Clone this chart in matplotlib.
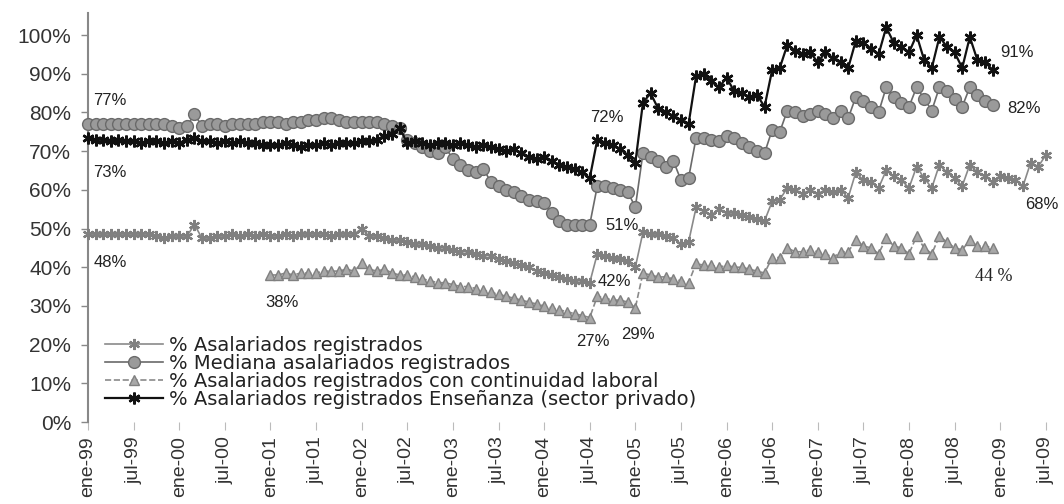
import numpy as np
import matplotlib
matplotlib.use('Agg')
import matplotlib.pyplot as plt

plt.rcParams['font.family'] = ['Liberation Sans', 'DejaVu Sans']

# Meses desde ene-99 (indice 0)
tick_labels = ['ene-99', 'jul-99', 'ene-00', 'jul-00', 'ene-01', 'jul-01', 'ene-02', 'jul-02',
               'ene-03', 'jul-03', 'ene-04', 'jul-04', 'ene-05', 'jul-05', 'ene-06', 'jul-06',
               'ene-07', 'jul-07', 'ene-08', 'jul-08', 'ene-09', 'jul-09']

# % Asalariados registrados (ene-99 .. jul-09)
asalariados = [
    48.5, 48.5, 48.5, 48.5, 48.5, 48.5, 48.5, 48.5, 48.5, 48, 47.5, 48,
    48, 48, 51, 47.5, 47.5, 48, 48, 48.5, 48, 48.5, 48, 48.5,
    48, 48, 48.5, 48, 48.5, 48.5, 48.5, 48.5, 48, 48.5, 48.5, 48.5,
    50, 48, 48, 47.5, 47, 47,
    46.5, 46, 46, 45.5, 45, 45, 44.5, 44, 44, 43.5, 43, 43,
    42, 41.5, 41, 40.5, 40, 39, 38.5, 38, 37.5, 37, 36.5, 36.5, 36,
    43.5, 43, 42.5, 42, 41.5, 40,
    49, 48.5, 48.5, 48, 47.5, 46, 46.5,
    55.5, 54.5, 53.5, 55, 54, 54, 53.5, 53, 52.5, 52,
    57, 57.5, 60.5, 60, 59, 60, 59, 60, 59.5, 60, 58,
    64.5, 62.5, 62, 60.5, 65, 63.5, 62.5, 60.5, 66, 63, 60.5, 66.5, 64.5,
    63, 61, 66.5, 64.5, 63.5, 62, 63.5, 63, 62.5, 61, 67, 66, 69]

# % Mediana asalariados registrados (ene-99 .. dic-08)
mediana = [
    77, 77, 77, 77, 77, 77, 77, 77, 77, 77, 77, 76.5,
    76, 76.5, 79.5, 76.5, 77, 77, 76.5, 77, 77, 77, 77, 77.5,
    77.5, 77.5, 77, 77.5, 77.5, 78, 78, 78.5, 78.5, 78, 77.5, 77.5,
    77.5, 77.5, 77.5, 77, 76.5, 76,
    73, 72, 71, 70, 69.5, 71, 68, 66.5, 65, 64.5, 65.5, 62,
    61, 60, 59.5, 58.5, 57.5, 57, 56.5, 54, 52, 51, 51, 51, 51,
    61, 61, 60.5, 60, 59.5, 55.5,
    69.5, 68.5, 67.5, 66, 67.5, 62.5, 63,
    73.5, 73.5, 73, 72.5, 74, 73.5, 72, 71, 70, 69.5,
    75.5, 75, 80.5, 80, 79, 79.5, 80.5, 79.5, 78.5, 80.5, 78.5,
    84, 83, 81.5, 80, 86.5, 84, 82.5, 81.5, 86.5, 83.5, 80.5, 86.5, 85.5,
    83.5, 81.5, 86.5, 84.5, 83, 82]

# % Asalariados registrados con continuidad laboral (ene-01 .. dic-08)
continuidad = [
    38, 38, 38.5, 38, 38.5, 38.5, 38.5, 39, 39, 39, 39.5, 39,
    41, 39.5, 39, 39.5, 38.5, 38,
    38, 37.5, 37, 36.5, 36, 36, 35.5, 35, 35, 34.5, 34, 33.5,
    33, 32.5, 32, 31.5, 31, 30.5, 30, 29.5, 29, 28.5, 28, 27.5, 27,
    32.5, 32, 31.5, 31.5, 31, 29.5,
    38.5, 38, 37.5, 37.5, 37, 36.5, 36,
    41, 40.5, 40.5, 40, 40.5, 40, 40, 39.5, 39, 38.5,
    42.5, 42.5, 45, 44, 44, 44.5, 44, 43.5, 42.5, 44, 44,
    47, 45.5, 45, 43.5, 47.5, 45.5, 45, 43.5, 48, 45, 43.5, 48, 46.5,
    45, 44.5, 47, 45.5, 45.5, 45]
continuidad_inicio = 24

# % Asalariados registrados Enseñanza (sector privado) (ene-99 .. dic-08)
ensenanza = [
    73.5, 73, 73, 72.5, 73, 72.5, 72.5, 72, 72.5, 72.5, 72, 72.5,
    72, 73, 73.5, 72.5, 72.5, 72, 72.5, 72, 72.5, 72, 72, 71.5,
    71.5, 71.5, 72, 71.5, 71, 71.5, 71.5, 72, 71.5, 72, 72, 72,
    72.5, 72.5, 73, 74, 74.5, 76,
    72, 72.5, 72, 71.5, 72, 72, 71.5, 72, 71.5, 71, 71.5, 71,
    70.5, 70, 70.5, 69.5, 68.5, 68, 68.5, 67.5, 66.5, 66, 65.5, 64.5, 63,
    73, 72, 71.5, 70.5, 69, 67,
    82.5, 85, 81, 80, 79, 78, 77,
    89.5, 90, 88, 86.5, 89, 85.5, 85, 84, 84.5, 81.5,
    91, 91.5, 97.5, 96, 95, 95.5, 93, 95.5, 94, 93, 91.5,
    98.5, 98, 96.5, 95, 102, 98, 97, 95.5, 100, 93.5, 91.5, 99.5, 97,
    95.5, 91.5, 99.5, 93.5, 93, 91]

nombres = ['% Asalariados registrados',
           '% Mediana asalariados registrados',
           '% Asalariados registrados con continuidad laboral',
           '% Asalariados registrados Enseñanza (sector privado)']

# Etiquetas de datos: texto, mes, valor
etiquetas = [('77%', 0.7, 83.2, 'left'), ('73%', 0.7, 64.6, 'left'), ('48%', 0.7, 41.1, 'left'),
             ('38%', 25.5, 31.0, 'center'), ('72%', 68.3, 78.6, 'center'),
             ('51%', 68.0, 50.9, 'left'), ('42%', 67.1, 36.2, 'left'),
             ('27%', 66.4, 20.7, 'center'), ('29%', 72.4, 22.5, 'center'),
             ('91%', 120.0, 95.6, 'left'), ('82%', 120.9, 81.1, 'left'),
             ('68%', 123.3, 56.1, 'left')]

fig = plt.figure(figsize=(10.64, 5.04), dpi=100)
ax = fig.add_axes([88 / 1064, 1 - 422 / 504, (1058 - 88) / 1064, 409 / 504])

x1 = np.arange(len(asalariados))
x2 = np.arange(len(mediana))
x3 = np.arange(len(continuidad)) + continuidad_inicio
x4 = np.arange(len(ensenanza))

ax.plot(x1, asalariados, color='#8a8a8a', lw=1.2, marker=(6, 2, 0), ms=8, mew=1.6,
        mec='#808080', label=nombres[0], clip_on=False, zorder=3)
ax.plot(x2, mediana, color='#6a6a6a', lw=1.2, marker='o', ms=8.5, mfc='#9a9a9a',
        mec='#6a6a6a', mew=1.0, label=nombres[1], clip_on=False, zorder=3)
ax.plot(x3, continuidad, color='#8a8a8a', lw=1.2, ls='--', marker='^', ms=7, mfc='#a8a8a8',
        mec='#808080', mew=1.0, label=nombres[2], clip_on=False, zorder=3)
ax.plot(x4, ensenanza, color='#111111', lw=1.6, marker=(6, 2, 0), ms=8.5, mew=1.8,
        mec='#111111', label=nombres[3], clip_on=False, zorder=4)

for texto, m, v, ha in etiquetas:
    ax.text(m, v, texto, ha=ha, va='center', fontsize=12, color='#222222')
ax.text(116.7, 37.5, '44 %', ha='left', va='center', fontsize=13, color='#222222',
        family='Liberation Serif')

ax.set_xlim(0, 127.6)
ax.set_ylim(0, 105.7)
ax.set_yticks(np.arange(0, 101, 10))
ax.set_yticklabels(['%d%%' % v for v in range(0, 101, 10)], fontsize=15, color='#333333')
ax.set_xticks(np.arange(0, 127, 6))
ax.set_xticklabels(tick_labels, rotation=90, fontsize=14, color='#333333')
ax.tick_params(axis='y', length=5, width=1, color='#888888', pad=7)
ax.tick_params(axis='x', length=6, width=0.8, color='#bbbbbb', pad=4)

for s in ['top', 'right', 'bottom']:
    ax.spines[s].set_visible(False)
ax.spines['left'].set_color('#888888')
ax.spines['left'].set_linewidth(1.5)

leg = ax.legend(loc='upper left', bbox_to_anchor=(105 / 1064, 1 - 336 / 504),
                bbox_transform=fig.transFigure, frameon=False,
                prop={'family': 'DejaVu Sans', 'size': 14},
                handlelength=3.0, handletextpad=0.3, labelspacing=-0.05, borderpad=0,
                borderaxespad=0)
for t in leg.get_texts():
    t.set_color('#222222')

fig.savefig('out.png', dpi=100)
